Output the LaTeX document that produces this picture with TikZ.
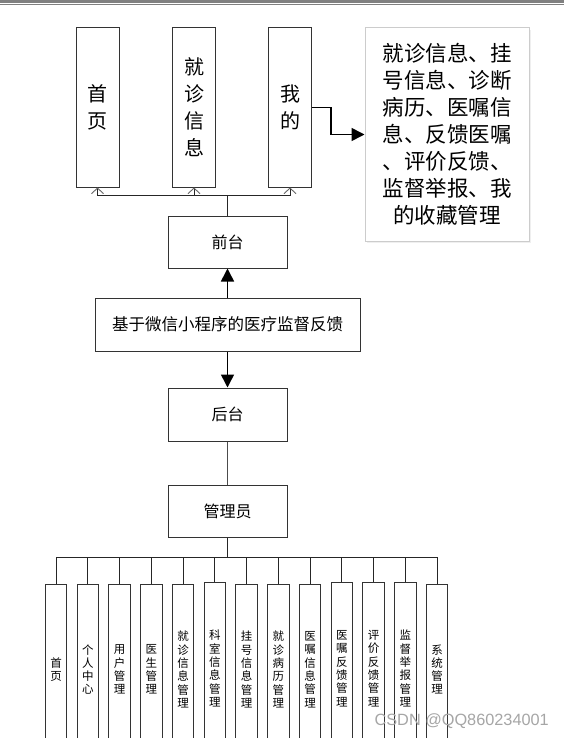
\documentclass[tikz,border=0pt]{standalone}
\usepackage{fontspec}
\setmainfont{Noto Sans CJK SC}
\newfontfamily\wmfont{Liberation Sans}
\usetikzlibrary{arrows.meta,shadows}

\begin{document}
\begin{tikzpicture}[x=1pt, y=-1pt,
		tallbox/.style={draw=black!80, line width=1pt, inner sep=0pt, minimum width=43pt, minimum height=159pt, align=center, font=\fontsize{20}{27}\selectfont},
		midbox/.style={draw=black!80, line width=1pt, inner sep=0pt, minimum width=119pt, minimum height=52pt, font=\fontsize{16}{19}\selectfont},
		leafbox/.style={draw=black!80, line width=1pt, inner sep=0pt, minimum width=21.5pt, anchor=north, align=center, font=\fontsize{11.5}{13.3}\selectfont},
		bus/.style={line width=1pt, draw=black!85},
		uptip/.style={-{Straight Barb[length=5.5pt, width=12pt, line width=0.9pt, color=black!60]}},
		bigtip/.style={line width=1.6pt, draw=black, -{Triangle[length=13pt, width=13pt]}}]
		%%%%% START %%%%%
		
		\clip (0,0) rectangle (564,738);
		\fill[white] (0,0) rectangle (564,738);
		
		\fill[black!50] (0,0) rectangle (564,3);
		\draw[black!50, line width=1pt] (0,4.5) -- (564,4.5);
		
		\node[tallbox] (shouye) at (97.5,107.5) {首\\页};
		\node[tallbox] (jiuzhen) at (194,107.5) {就\\诊\\信\\息};
		\node[tallbox] (wode) at (290,107.5) {我\\的};
		
		\node[draw=black!20, line width=1pt, fill=white, drop shadow={opacity=0.12, shadow xshift=2pt, shadow yshift=-2pt}, inner sep=0pt, minimum width=164pt, minimum height=213pt, align=center, font=\fontsize{21.5}{27}\selectfont] (wodeinfo) at (447,134.5) {就诊信息、挂\\号信息、诊断\\病历、医嘱信\\息、反馈医嘱\\、评价反馈、\\监督举报、我\\的收藏管理};
		\draw[bus, bigtip] (wode.east) -- ++(19,0) |- (wodeinfo.west);
		
		\node[midbox] (qiantai) at (227.5,242) {前台};
		\draw[bus] (qiantai.north) -- ++(0,-20) coordinate (qbus);
		\draw[bus, uptip] (qbus) -| (shouye.south);
		\draw[bus, uptip] (qbus) -| (jiuzhen.south);
		\draw[bus, uptip] (qbus) -| (wode.south);
		
		\node[midbox, minimum width=265pt, minimum height=53pt, font=\fontsize{16.5}{19}\selectfont] (jiyu) at (227.5,324.5) {基于微信小程序的医疗监督反馈};
		\draw[bus, bigtip] (jiyu.north) -- (qiantai.south);
		
		\node[midbox, minimum height=53pt] (houtai) at (227.5,414.5) {后台};
		\draw[bus, bigtip] (jiyu.south) -- (houtai.north);
		
		\node[midbox] (admin) at (227.5,511) {管理员};
		\draw[bus, black!70] (houtai.south) -- (admin.north);
		\draw[bus] (admin.south) -- ++(0,20) coordinate (abus);
		
		\node[leafbox, minimum height=170pt] (leafa) at (56,584) {首\\页};
		\node[leafbox, minimum height=170pt] (leafb) at (87.75,584) {个\\人\\中\\心};
		\node[leafbox, minimum height=170pt] (leafc) at (119.5,584) {用\\户\\管\\理};
		\node[leafbox, minimum height=170pt] (leafd) at (151.25,584) {医\\生\\管\\理};
		\node[leafbox, minimum height=170pt] (leafe) at (183,584) {就\\诊\\信\\息\\管\\理};
		\node[leafbox, minimum height=172pt] (leaff) at (214.75,582) {科\\室\\信\\息\\管\\理};
		\node[leafbox, minimum height=170pt] (leafg) at (246.5,584) {挂\\号\\信\\息\\管\\理};
		\node[leafbox, minimum height=170pt] (leafh) at (278.25,584) {就\\诊\\病\\历\\管\\理};
		\node[leafbox, minimum height=170pt] (leafi) at (310,584) {医\\嘱\\信\\息\\管\\理};
		\node[leafbox, minimum height=172pt] (leafj) at (341.75,582) {医\\嘱\\反\\馈\\管\\理};
		\node[leafbox, minimum height=172pt] (leafk) at (373.5,582) {评\\价\\反\\馈\\管\\理};
		\node[leafbox, minimum height=172pt] (leafl) at (405.25,582) {监\\督\\举\\报\\管\\理};
		\node[leafbox, minimum height=170pt] (leafm) at (437,584) {系\\统\\管\\理};
		
		\draw[bus] (abus) -| (leafa.north);
		\draw[bus] (abus) -| (leafb.north);
		\draw[bus] (abus) -| (leafc.north);
		\draw[bus] (abus) -| (leafd.north);
		\draw[bus] (abus) -| (leafe.north);
		\draw[bus] (abus) -| (leaff.north);
		\draw[bus] (abus) -| (leafg.north);
		\draw[bus] (abus) -| (leafh.north);
		\draw[bus] (abus) -| (leafi.north);
		\draw[bus] (abus) -| (leafj.north);
		\draw[bus] (abus) -| (leafk.north);
		\draw[bus] (abus) -| (leafl.north);
		\draw[bus] (abus) -| (leafm.north);
		
		\node[text=black!35, font=\wmfont\fontsize{16.3}{18}\selectfont, anchor=base east, inner sep=0pt] (mark) at (549,725) {CSDN @QQ860234001};
		
		%%%%% END %%%%%
\end{tikzpicture}
\end{document}
